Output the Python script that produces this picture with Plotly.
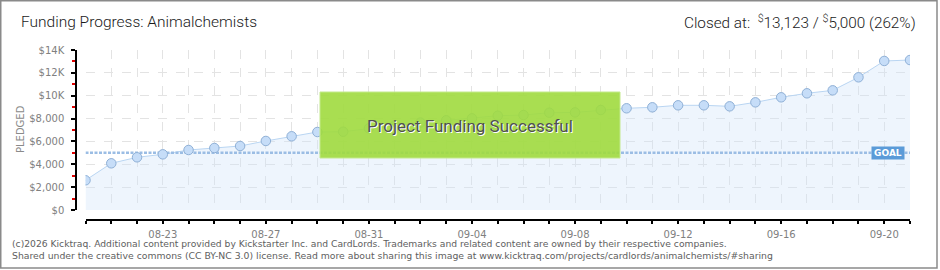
import plotly.graph_objects as go

# ---------------- data ----------------
dates = ["2025-08-20", "2025-08-21", "2025-08-22", "2025-08-23", "2025-08-24", "2025-08-25",
         "2025-08-26", "2025-08-27", "2025-08-28", "2025-08-29", "2025-08-30", "2025-08-31",
         "2025-09-01", "2025-09-02", "2025-09-03", "2025-09-04", "2025-09-05", "2025-09-06",
         "2025-09-07", "2025-09-08", "2025-09-09", "2025-09-10", "2025-09-11", "2025-09-12",
         "2025-09-13", "2025-09-14", "2025-09-15", "2025-09-16", "2025-09-17", "2025-09-18",
         "2025-09-19", "2025-09-20", "2025-09-21"]
pledged = [2600, 4085, 4610, 4870, 5250, 5425, 5600, 6040, 6450, 6825, 6850, 7150,
           7400, 7650, 7850, 8020, 8250, 8310, 8515, 8540, 8750, 8900, 8985, 9160,
           9160, 9070, 9420, 9860, 10210, 10470, 11610, 13040, 13123]
goal = 5000
x_labels = {"2025-08-23": "08-23", "2025-08-27": "08-27", "2025-08-31": "08-31",
            "2025-09-04": "09-04", "2025-09-08": "09-08", "2025-09-12": "09-12",
            "2025-09-16": "09-16", "2025-09-20": "09-20"}
y_tickvals = [0, 2000, 4000, 6000, 8000, 10000, 12000, 14000]
y_ticktext = ["$0", "$2,000", "$4,000", "$6,000", "$8,000", "$10K", "$12K", "$14K"]
y_minor = [1000, 3000, 5000, 7000, 9000, 11000, 13000]

title_text = "Funding Progress: Animalchemists"
closed_text = "Closed at:  <sup>$</sup>13,123 / <sup>$</sup>5,000 (262%)"
banner_text = "Project Funding Successful"
footer1 = ("(c)2026 Kicktraq. Additional content provided by Kickstarter Inc. and CardLords. "
           "Trademarks and related content are owned by their respective companies.")
footer2 = ("Shared under the creative commons (CC BY-NC 3.0) license. Read more about sharing "
           "this image at www.kicktraq.com/projects/cardlords/animalchemists/#sharing")

# ---------------- layout geometry ----------------
W, H = 940, 270
ML, MR, MT, MB = 76, 30, 50, 50
PW, PH = W - ML - MR, H - MT - MB


def px(x):
    return (x - ML) / PW


def py(y):
    return (H - MB - y) / PH


TICKFONT = dict(family="DejaVu Sans, Verdana, sans-serif", size=10, color="#808080")
NARROW = "Roboto, sans-serif"

fig = go.Figure()

# fill + line
fig.add_trace(go.Scatter(
    x=dates, y=pledged, mode="lines", fill="tozeroy",
    fillcolor="rgba(205,225,250,0.35)",
    line=dict(color="#b9d5f2", width=1), hoverinfo="skip", showlegend=False))
# goal line
fig.add_trace(go.Scatter(
    x=[dates[0], dates[-1]], y=[goal, goal], mode="lines",
    line=dict(color="#9bbde4", width=2.5, dash="3px,1.5px"), hoverinfo="skip", showlegend=False))
# markers
fig.add_trace(go.Scatter(
    x=dates, y=pledged, mode="markers",
    marker=dict(size=9.5, color="#c6ddf8", line=dict(color="#8fb0d6", width=1)),
    showlegend=False))

fig.update_layout(
    width=W, height=H,
    margin=dict(l=ML, r=MR, t=MT, b=MB, pad=0),
    paper_bgcolor="white", plot_bgcolor="white",
    showlegend=False,
    xaxis=dict(
        type="date",
        domain=[px(85.5), 1],
        anchor="free", position=0,
        range=[dates[0], dates[-1]],
        tickmode="array", tickvals=dates,
        ticktext=[x_labels.get(d, "") for d in dates],
        showline=True, linecolor="black", linewidth=1.5,
        ticks="outside", ticklen=3, tickcolor="black", tickwidth=1.5,
        showgrid=True, gridcolor="#e3e3e3", griddash="dash", gridwidth=1,
        zeroline=False, tickfont=TICKFONT, tickangle=0, ticklabelstandoff=2,
    ),
    yaxis=dict(
        domain=[py(210), 1],
        anchor="free", position=0,
        range=[0, 14000],
        tickmode="array", tickvals=y_tickvals, ticktext=y_ticktext,
        showline=True, linecolor="black", linewidth=1.5,
        ticks="outside", ticklen=4, tickcolor="black", tickwidth=1.5,
        minor=dict(tickmode="array", tickvals=y_minor, ticks="outside", ticklen=3,
                   tickcolor="#e00000", tickwidth=1.5, showgrid=False),
        showgrid=True, gridcolor="#e3e3e3", griddash="dash", gridwidth=1,
        zeroline=False, tickfont=TICKFONT, ticklabelstandoff=5,
    ),
)

shapes = []
# outer frame
shapes.append(dict(type="rect", xref="paper", yref="paper",
                   x0=px(0.75), x1=px(937), y0=py(0.75), y1=py(268),
                   line=dict(color="#8a8a8a", width=1.5), fillcolor="rgba(0,0,0,0)"))
# success banner
shapes.append(dict(type="rect", xref="paper", yref="paper", layer="above",
                   x0=px(320), x1=px(620), y0=py(92), y1=py(158),
                   fillcolor="rgba(160,218,62,0.9)", line=dict(color="#c3e98c", width=1)))
fig.update_layout(shapes=shapes)

annotations = [
    dict(text=title_text, xref="paper", yref="paper", x=px(19), y=py(22),
         xanchor="left", yanchor="middle", showarrow=False,
         font=dict(family=NARROW, size=15.5, color="#1a1a1a", weight=300)),
    dict(text=closed_text, xref="paper", yref="paper", x=px(918), y=py(22),
         xanchor="right", yanchor="middle", showarrow=False,
         font=dict(family=NARROW, size=15.3, color="#1a1a1a", weight=300)),
    dict(text="PLEDGED", xref="paper", yref="paper", x=px(20), y=py(129),
         xanchor="center", yanchor="middle", showarrow=False, textangle=-90,
         font=dict(family="DejaVu Sans, sans-serif", size=10, color="#8a8a8a")),
    dict(text=banner_text, xref="paper", yref="paper", x=px(470), y=py(126),
         xanchor="center", yanchor="middle", showarrow=False,
         font=dict(family=NARROW, size=17, color="#505050", shadow="1px 1px 0px white")),
    dict(text="<b>GOAL</b>", xref="paper", yref="paper", x=px(887.5), y=py(153),
         xanchor="center", yanchor="middle", showarrow=False,
         bgcolor="#5b9bd8", borderpad=1, width=30,
         font=dict(family="DejaVu Sans, sans-serif", size=9, color="white")),
    dict(text=footer1, xref="paper", yref="paper", x=px(10), y=py(243),
         xanchor="left", yanchor="middle", showarrow=False,
         font=dict(family="DejaVu Sans, Verdana, sans-serif", size=9.2, color="#606060")),
    dict(text=footer2, xref="paper", yref="paper", x=px(10), y=py(256),
         xanchor="left", yanchor="middle", showarrow=False,
         font=dict(family="DejaVu Sans, Verdana, sans-serif", size=9.3, color="#606060")),
]
fig.update_layout(annotations=annotations)

fig.write_html("out.html")
